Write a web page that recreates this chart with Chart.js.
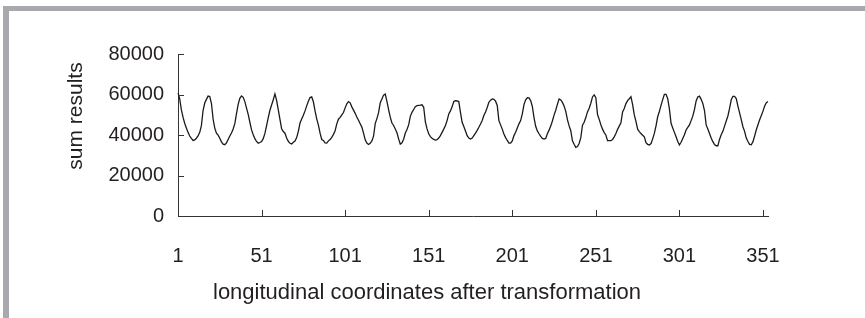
<!DOCTYPE html>
<html>
<head>
<meta charset="utf-8">
<script src="https://cdn.jsdelivr.net/npm/chart.js@4/dist/chart.umd.min.js"></script>
<style>
  body { margin: 0; background: #fff; }
  #wrap { position: relative; width: 865px; height: 318px; }
  #frame { position: absolute; left: 3px; top: 6px; width: 856px; height: 307px;
           border-top: 5px solid #a7a9ac; border-left: 6px solid #a7a9ac; pointer-events: none; }
  canvas { position: absolute; left: 0; top: 0; }
</style>
</head>
<body>
<div id="wrap">
  <canvas id="chart" width="865" height="318"></canvas>
  <div id="frame"></div>
</div>
<script>
// values, one per longitudinal coordinate (1..354)
const sumResults = [
  60800, 57900, 52500, 48800, 45800, 43500, 41300, 39500, 38300, 37300,
  37600, 38400, 39500, 41300, 44600, 52100, 55800, 57600, 59200, 59000,
  55600, 47900, 43400, 40900, 39900, 38400, 36600, 35500, 35200, 36100,
  37800, 39500, 41000, 43000, 45600, 50600, 55100, 58100, 59300, 58600,
  56500, 53300, 50200, 46300, 42500, 40100, 38200, 36800, 35900, 36300,
  36800, 38200, 40800, 44600, 48600, 52200, 54800, 57400, 60300, 57100,
  52400, 47700, 43100, 41700, 40900, 38500, 36900, 35900, 35600, 36400,
  37000, 38700, 41800, 45900, 47900, 49800, 51900, 54400, 56700, 58500,
  58800, 56400, 51900, 48000, 44900, 40900, 37800, 37300, 36100, 36000,
  37100, 37800, 38800, 40300, 42100, 45500, 47800, 48700, 49900, 51100,
  53400, 55400, 56500, 55900, 53900, 52300, 50700, 48900, 47300, 45600,
  43900, 40900, 37600, 36000, 35300, 35900, 37100, 39400, 45600, 48100,
  51000, 55900, 57800, 59700, 60200, 56600, 52500, 48800, 45900, 44700,
  43000, 41100, 38100, 35500, 36100, 37900, 41000, 42700, 45000, 49200,
  51200, 52600, 54000, 54500, 54600, 54700, 54900, 53700, 46500, 43000,
  40600, 39200, 38400, 37800, 37500, 37700, 38500, 39700, 41300, 42900,
  44700, 47100, 50400, 51900, 53900, 56500, 56900, 56800, 56500, 51200,
  46300, 44200, 42000, 39700, 38500, 38000, 38500, 39700, 40900, 42300,
  43800, 45400, 47200, 49600, 51400, 53600, 56200, 57200, 57800, 57600,
  56700, 54600, 47100, 45000, 42900, 40500, 38700, 37300, 36000, 36000,
  37100, 39700, 41400, 43400, 45500, 47100, 50400, 55000, 57400, 58400,
  58300, 57000, 54100, 48600, 44300, 42000, 40600, 39300, 38300, 38000,
  38300, 40600, 42400, 44400, 46900, 49800, 52200, 55100, 57800, 57300,
  56100, 54300, 51700, 47600, 44500, 42100, 37100, 35400, 33900, 34300,
  35800, 38700, 44800, 46300, 48600, 51400, 53200, 55700, 58800, 59800,
  58400, 50100, 47700, 45100, 42900, 41200, 40000, 37200, 37200, 37200,
  37800, 39100, 40700, 42800, 44400, 46000, 51400, 53100, 55500, 57000,
  57900, 58900, 55000, 49900, 46700, 42900, 41700, 40700, 39900, 39100,
  36200, 35400, 35100, 35800, 38100, 40800, 44500, 49000, 51600, 54600,
  57500, 60100, 60100, 57900, 52900, 45800, 43500, 41300, 39100, 36800,
  35100, 36400, 38300, 40100, 42500, 43800, 45000, 47100, 49300, 52600,
  56800, 58800, 59200, 57600, 55600, 52100, 45000, 43000, 40700, 38500,
  36700, 35300, 34700, 34700, 37800, 40100, 41800, 44400, 46900, 49400,
  53100, 57400, 59100, 59100, 58000, 54300, 50900, 47600, 44100, 41800,
  38500, 36800, 35400, 35200, 36700, 39500, 42600, 45100, 47500, 49600,
  51800, 54300, 55900, 56500
];
const coords = sumResults.map((v, i) => String(i + 1));
const xTickLabels = ['1', '51', '101', '151', '201', '251', '301', '351'];
const yTicks = [0, 20000, 40000, 60000, 80000];
const xTitle = 'longitudinal coordinates after transformation';
const yTitle = 'sum results';

const textColor = '#231f20';
const fontFamily = '"Liberation Sans", Arial, sans-serif';

// Excel-style tick marks pointing into the plot, plus the axis titles
const innerTicks = {
  id: 'innerTicks',
  afterDraw(chart) {
    const { ctx, chartArea, scales } = chart;
    ctx.save();
    ctx.strokeStyle = '#333';
    ctx.lineWidth = 1;
    ctx.beginPath();
    yTicks.forEach(v => {
      const y = Math.round(scales.y.getPixelForValue(v)) + 0.5;
      ctx.moveTo(chartArea.left, y);
      ctx.lineTo(chartArea.left + 6, y);
    });
    xTickLabels.forEach(l => {
      const x = Math.round(scales.x.getPixelForValue(coords.indexOf(l))) + 0.5;
      ctx.moveTo(x, chartArea.bottom);
      ctx.lineTo(x, chartArea.bottom - 6);
    });
    ctx.stroke();

    ctx.fillStyle = textColor;
    ctx.textAlign = 'center';
    ctx.textBaseline = 'middle';
    ctx.font = '22px ' + fontFamily;
    ctx.fillText(xTitle, 427, 293);
    ctx.font = '21px ' + fontFamily;
    ctx.translate(76, 116);
    ctx.rotate(-Math.PI / 2);
    ctx.fillText(yTitle, 0, 0);
    ctx.restore();
  }
};

new Chart(document.getElementById('chart'), {
  type: 'line',
  data: {
    labels: coords,
    datasets: [{
      data: sumResults,
      borderColor: '#1a1a1a',
      borderWidth: 1.3,
      pointRadius: 0,
      tension: 0,
      fill: false
    }]
  },
  options: {
    responsive: false,
    animation: false,
    layout: { padding: { top: 54, right: 97, bottom: 0, left: 0 } },
    plugins: { legend: { display: false }, tooltip: { enabled: false } },
    scales: {
      x: {
        type: 'category',
        offset: false,
        grid: { display: false, drawTicks: false },
        border: { display: true, color: '#333', width: 1 },
        afterFit: s => { s.height = 102; },
        ticks: {
          autoSkip: false,
          maxRotation: 0,
          padding: 28,
          color: textColor,
          font: { family: fontFamily, size: 20 },
          callback: (v, i) => xTickLabels.includes(coords[i]) ? coords[i] : null
        }
      },
      y: {
        min: 0,
        max: 80000,
        grid: { display: false, drawTicks: false },
        border: { display: true, color: '#333', width: 1 },
        afterFit: s => { s.width = 178; },
        afterBuildTicks: s => { s.ticks = yTicks.map(v => ({ value: v })); },
        ticks: {
          padding: 14,
          color: textColor,
          font: { family: fontFamily, size: 20 },
          callback: v => String(v)
        }
      }
    }
  },
  plugins: [innerTicks]
});
</script>
</body>
</html>
